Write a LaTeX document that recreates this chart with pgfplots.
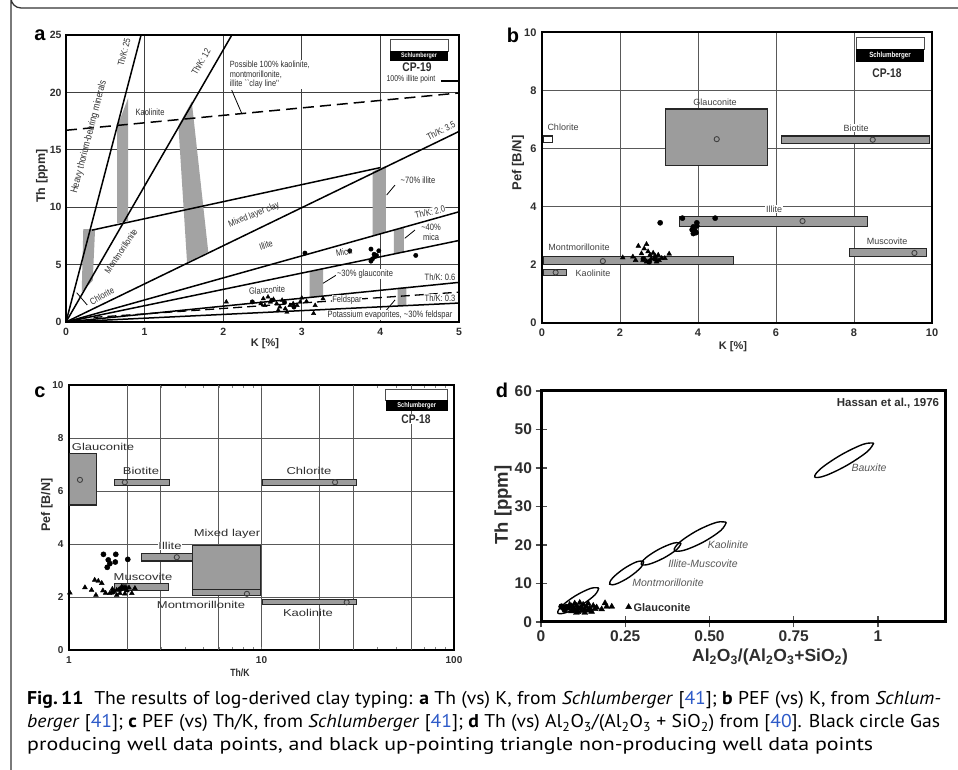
\documentclass[border=0pt]{standalone}
\usepackage{pgfplots}
\pgfplotsset{compat=1.18}
\usepackage{graphicx}
\usepackage{fontspec}
\setmainfont{Liberation Sans}
\newfontfamily\narrow[FakeStretch=0.82]{Liberation Sans}
\newfontfamily\wide[FakeStretch=1.3]{Liberation Sans}
\newfontfamily\capfont{PT Sans}
\newcommand\fs[1]{\fontsize{#1}{#1}\selectfont}
\definecolor{band}{HTML}{A3A3A3}
\definecolor{boxg}{HTML}{9C9C9C}
\definecolor{txt}{HTML}{2E2E2E}
\definecolor{linkblue}{RGB}{45,90,200}
\pgfplotsset{
  gas/.style={only marks, mark=*, mark size=2.4pt, black},
  dry/.style={only marks, mark=triangle*, mark size=2.8pt, black},
  cen/.style={only marks, mark=o, mark size=2.6pt, black!75, mark options={line width=0.9pt}},
  boxs/.style={fill=boxg, draw=black!85, line width=1.1pt},
  ln/.style={black, line width=1.5pt},
  ld/.style={black, line width=0.8pt},
  ell/.style={black, line width=1.4pt, smooth, tension=0.6},
}
\tikzset{
  lab/.style={font=\narrow\fs{9.2}, text=txt, inner sep=0.6pt},
  labw/.style={lab, fill=white},
  blab/.style={font=\fs{9}, text=black!75, inner sep=0.6pt},
  clab/.style={font=\wide\fs{10}, text=txt, inner sep=0.6pt},
  dlab/.style={font=\itshape\fs{10.5}, text=black!65, inner sep=0.6pt},
}
\begin{document}
\begin{tikzpicture}
\useasboundingbox (0,0) rectangle (958pt,770pt);
\fill[white] (0,0) rectangle (958pt,770pt);

% ---------------- panel a ----------------
\begin{axis}[at={(66pt,448pt)}, anchor=south west, scale only axis, width=393pt, height=287pt,
 xmin=0,xmax=5,ymin=0,ymax=25, xtick={0,1,...,5}, ytick={0,5,...,25},
 grid=major, grid style={black!75, line width=0.7pt}, major tick length=0pt,
 axis line style={line width=1.8pt},
 tick label style={font=\bfseries\fs{10.5}, text=txt}, /pgf/number format/assume math mode=true,
 xticklabel style={yshift=-3pt}, yticklabel style={xshift=-1pt}]
% grey bands
\addplot[fill=band, draw=none] coordinates {(0.2,2.6)(0.34,3.6)(0.37,8.1)(0.22,8.1)};
\addplot[fill=band, draw=none] coordinates {(0.65,8.6)(0.79,8.8)(0.79,19.5)(0.65,17.0)};
\addplot[fill=band, draw=none] coordinates {(1.43,17.1)(1.6,19.2)(1.81,6.1)(1.54,5.2)};
\addplot[fill=band, draw=none] coordinates {(3.9,7.5)(4.07,7.8)(4.07,13.6)(3.9,13.1)};
\addplot[fill=band, draw=none] coordinates {(4.17,5.9)(4.3,6.1)(4.3,8.25)(4.17,8.0)};
\addplot[fill=band, draw=none] coordinates {(3.1,2.17)(3.27,2.29)(3.27,4.64)(3.1,4.4)};
\addplot[fill=band, draw=none] coordinates {(4.22,1.4)(4.33,1.43)(4.33,3.05)(4.22,2.98)};
% lines
\addplot[ln] coordinates {(0,0)(0.955,25)};
\addplot[ln] coordinates {(0,0)(2.11,25)};
\addplot[ln] coordinates {(0,0)(5,16.6)};
\addplot[ln] coordinates {(0,0)(5,9.6)};
\addplot[ln] coordinates {(0,0)(5,7.1)};
\addplot[ln] coordinates {(0,0)(5,3.45)};
\addplot[ln] coordinates {(0,0)(5,1.65)};
\addplot[ln] coordinates {(0.33,8.0)(4.0,13.45)};
\addplot[black, line width=1.3pt, dash pattern=on 9pt off 5pt] coordinates {(0.35,0.4)(5,2.6)};
\addplot[black, line width=1.5pt, dash pattern=on 11pt off 6pt] coordinates {(0,16.7)(5,19.95)};
\addplot[black, line width=1.8pt] coordinates {(4.77,21.0)(5,21.0)};
% leaders
\addplot[ld] coordinates {(2.108,20.2)(2.235,18.18)};
\addplot[ld] coordinates {(4.186,11.93)(4.08,11.06)};
\addplot[ld] coordinates {(4.44,8.01)(4.31,7.29)};
\addplot[ld] coordinates {(3.44,4.09)(3.27,3.37)};
\addplot[ld] coordinates {(4.186,1.92)(4.06,0.9)};
\addplot[ld] coordinates {(0.136,2.55)(0.27,1.48)};
% data
\addplot[dry, mark size=2.5pt] coordinates {(2.04,1.75)(2.51,2.03)(2.57,2.18)(2.64,1.97)(2.60,1.74)(2.68,1.6)(2.72,1.31)(2.79,1.16)(2.85,1.45)(2.89,1.6)(2.94,1.45)(2.98,1.74)(3.0,2.09)(3.06,1.8)(3.17,1.45)(3.27,2.03)(2.53,1.45)(2.81,0.87)(2.7,1.02)(3.15,0.75)(2.48,1.6)(2.75,1.9)};
\addplot[gas, mark size=2.2pt] coordinates {(2.37,1.75)(3.04,6.0)(3.61,6.2)(3.88,6.35)(3.98,6.2)(3.92,5.9)(3.93,5.7)(3.9,5.5)(3.88,5.3)(3.95,5.8)(4.45,5.8)(2.62,1.9)(2.78,1.7)(2.9,1.3)};
\end{axis}

% ---------------- panel b ----------------
\begin{axis}[at={(542pt,447.3pt)}, anchor=south west, scale only axis, width=390pt, height=290.4pt,
 xmin=0,xmax=10,ymin=0,ymax=10, xtick={0,2,...,10}, ytick={0,2,...,10},
 grid=major, grid style={black!65, line width=0.8pt}, major tick length=0pt,
 axis line style={line width=2.2pt},
 tick label style={font=\bfseries\fs{11}, text=txt}, /pgf/number format/assume math mode=true,
 xticklabel style={yshift=-3pt}, yticklabel style={xshift=-2pt}]
\addplot[fill=white, draw=black!85, line width=1.1pt] coordinates {(0.03,6.21)(0.26,6.21)(0.26,6.43)(0.03,6.43)(0.03,6.21)(0.26,6.21)};
\addplot[boxs] coordinates {(3.17,5.4)(5.79,5.4)(5.79,7.36)(3.17,7.36)(3.17,5.4)(5.79,5.4)};
\addplot[boxs] coordinates {(6.15,6.18)(9.93,6.18)(9.93,6.43)(6.15,6.43)(6.15,6.18)(9.93,6.18)};
\addplot[boxs] coordinates {(3.52,3.31)(8.35,3.31)(8.35,3.67)(3.52,3.67)(3.52,3.31)(8.35,3.31)};
\addplot[boxs] coordinates {(0.03,1.99)(4.9,1.99)(4.9,2.27)(0.03,2.27)(0.03,1.99)(4.9,1.99)};
\addplot[boxs] coordinates {(0.03,1.62)(0.62,1.62)(0.62,1.84)(0.03,1.84)(0.03,1.62)(0.62,1.62)};
\addplot[boxs] coordinates {(7.88,2.27)(9.85,2.27)(9.85,2.56)(7.88,2.56)(7.88,2.27)(9.85,2.27)};
\addplot[cen] coordinates {(4.48,6.32)(8.48,6.3)(6.68,3.5)(1.56,2.12)(0.35,1.73)(9.55,2.4)};
\addplot[dry] coordinates {(2.07,2.24)(2.33,2.27)(2.47,2.64)(2.68,2.7)(2.55,2.38)(2.77,2.33)(2.85,2.4)(2.98,2.33)(3.15,2.22)(3.26,2.37)(2.59,2.16)(2.68,2.1)(2.94,2.1)(3.07,2.22)(2.4,2.15)(2.62,2.55)(2.72,2.45)(2.8,2.2)(2.9,2.3)(3.0,2.15)};
\addplot[gas, mark size=2.6pt] coordinates {(3.03,3.44)(3.6,3.6)(4.44,3.6)(3.97,3.44)(3.88,3.3)(3.92,3.17)(3.88,3.07)(3.97,3.33)(3.85,3.2)(3.95,3.1)(2.6,2.2)(2.75,2.1)(2.9,2.2)};
\end{axis}

% ---------------- panel c ----------------
\begin{axis}[at={(69pt,120pt)}, anchor=south west, scale only axis, width=385pt, height=265pt,
 xmode=log, xmin=1,xmax=100,ymin=0,ymax=10, xtick={1,10,100}, xticklabels={1,10,100},
 extra x ticks={2,3,6,20,30,60}, extra x tick labels={}, extra x tick style={grid=major},
 ytick={0,2,...,10},
 grid=major, grid style={black!65, line width=0.8pt}, major tick length=0pt,
 axis line style={line width=2pt},
 tick label style={font=\bfseries\fs{10}, text=txt}, /pgf/number format/assume math mode=true,
 xticklabel style={yshift=-3pt}, yticklabel style={xshift=-2pt}]
\addplot[boxs] coordinates {(1,5.47)(1.39,5.47)(1.39,7.4)(1,7.4)(1,5.47)(1.39,5.47)};
\addplot[boxs] coordinates {(1.73,6.2)(3.32,6.2)(3.32,6.45)(1.73,6.45)(1.73,6.2)(3.32,6.2)};
\addplot[boxs] coordinates {(10.1,6.2)(31.2,6.2)(31.2,6.45)(10.1,6.45)(10.1,6.2)(31.2,6.2)};
\addplot[boxs] coordinates {(2.39,3.36)(4.83,3.36)(4.83,3.65)(2.39,3.65)(2.39,3.36)(4.83,3.36)};
\addplot[boxs] coordinates {(4.37,2.04)(9.9,2.04)(9.9,3.94)(4.37,3.94)(4.37,2.04)(9.9,2.04)};
\addplot[boxs] coordinates {(4.37,2.04)(9.9,2.04)(9.9,2.29)(4.37,2.29)(4.37,2.04)(9.9,2.04)};
\addplot[boxs] coordinates {(1.73,2.26)(3.28,2.26)(3.28,2.52)(1.73,2.52)(1.73,2.26)(3.28,2.26)};
\addplot[boxs] coordinates {(10.1,1.7)(31.2,1.7)(31.2,1.89)(10.1,1.89)(10.1,1.7)(31.2,1.7)};
\addplot[cen] coordinates {(1.14,6.42)(1.95,6.33)(24.1,6.33)(3.63,3.5)(8.4,2.12)(1.95,2.39)(27.7,1.8)};
\addplot[dry] coordinates {(1.01,2.16)(1.21,2.36)(1.31,2.26)(1.36,2.64)(1.38,2.07)(1.48,2.52)(1.5,2.24)(1.63,2.14)(1.77,2.26)(1.88,2.39)(2.0,2.24)(2.12,2.14)(2.2,2.33)(1.77,2.07)(1.84,2.14)(1.42,2.6)(1.55,2.15)(1.68,2.3)(1.95,2.12)(2.05,2.35)};
\addplot[gas, mark size=2.6pt] coordinates {(1.51,3.61)(1.75,3.61)(2.02,3.42)(1.6,3.4)(1.63,3.26)(1.58,3.12)(1.74,3.32)(1.85,2.3)(1.95,2.35)(1.7,2.2)};
\end{axis}

% ---------------- panel d ----------------
\begin{axis}[at={(541pt,148pt)}, anchor=south west, scale only axis, width=404.4pt, height=231pt,
 xmin=0,xmax=1.2,ymin=0,ymax=60, xtick={0,0.25,0.5,0.75,1}, xticklabels={0,0.25,0.50,0.75,1},
 ytick={0,10,...,60}, tick pos=left, tick align=center, major tick length=11pt,
 tick style={black!70, line width=1.2pt},
 axis line style={line width=3pt},
 tick label style={font=\bfseries\fs{15.5}, text=txt}, /pgf/number format/assume math mode=true]
\addplot[ell] coordinates {(0.9872,46.47)(0.9554,46.14)(0.8909,43.43)(0.8315,39.93)(0.8122,37.69)(0.8440,38.02)(0.9085,40.73)(0.9679,44.23)(0.9872,46.47)};
\addplot[ell] coordinates {(0.5498,25.89)(0.5207,25.88)(0.4636,23.75)(0.4117,20.74)(0.3956,18.63)(0.4247,18.64)(0.4818,20.77)(0.5337,23.78)(0.5498,25.89)};
\addplot[ell] coordinates {(0.4156,20.48)(0.3934,20.49)(0.3497,18.89)(0.3101,16.61)(0.2977,15.00)(0.3199,14.99)(0.3637,16.59)(0.4033,18.87)(0.4156,20.48)};
\addplot[ell] coordinates {(0.3049,15.74)(0.2842,15.64)(0.2461,13.86)(0.2127,11.45)(0.2037,9.82)(0.2244,9.92)(0.2626,11.70)(0.2959,14.11)(0.3049,15.74)};
\addplot[ell] coordinates {(0.1715,8.82)(0.1477,8.74)(0.1022,6.81)(0.0617,4.16)(0.0498,2.35)(0.0737,2.43)(0.1192,4.36)(0.1597,7.01)(0.1715,8.82)};
\addplot[dry, mark size=3.4pt] coordinates {(0.08,3.5)(0.085,4.5)(0.09,2.8)(0.095,3.8)(0.1,4.8)(0.1,3.0)(0.105,4.2)(0.11,3.5)(0.11,2.6)(0.115,5.0)(0.12,3.8)(0.12,2.9)(0.125,4.5)(0.13,3.3)(0.13,2.4)(0.135,4.0)(0.14,3.0)(0.14,4.8)(0.145,3.6)(0.15,2.7)(0.155,4.2)(0.16,3.4)(0.165,3.8)(0.18,3.3)(0.19,4.9)(0.195,4.0)(0.21,4.0)(0.26,3.9)(0.09,4.1)(0.105,2.4)};
\addplot[gas, mark size=3pt] coordinates {(0.061,4.0)(0.07,3.2)(0.075,3.9)};
\end{axis}

\begin{scope}[x=1pt,y=-1pt,shift={(0,770pt)}]
% outer frame
\draw[black!80, line width=1.3pt] (958,8) -- (21,8) arc[start angle=90,end angle=180,radius=10] -- (11,770);
% ---- panel a texts
\node[font=\bfseries\fs{20}] at (40,35) {a};
\node[rotate=90, font=\bfseries\fs{12.5}, text=txt] at (42,176) {Th [ppm]};
\node[font=\bfseries\fs{11}, text=txt] at (265,344) {K [\%]};
\node[lab, rotate=75.4, font=\narrow\fs{10}] at (89,137) {Heavy thorium-bearing minerals};
\node[lab, rotate=75.4] at (124,52) {Th/K: 25};
\node[lab, rotate=60] at (201,62) {Th/K: 12};
\node[lab, anchor=north west, align=left, font=\narrow\fontsize{9}{9.7}\selectfont, fill=white] at (229,60) {Possible 100\% kaolinite,\\montmorillonite,\\illite ``clay line''};
\node[lab] at (150,112) {Kaolinite};
\draw[black!70, line width=0.6pt, fill=white] (390,39) rectangle (448,51);
\fill[black] (390,51) rectangle (448,61);
\node[white, font=\narrow\bfseries\fs{6.5}] at (419,56) {Schlumberger};
\node[font=\narrow\bfseries\fs{12.5}, text=txt] at (417,67) {CP-19};
\node[lab, font=\narrow\fs{8.5}] at (411,79) {100\% illite point};
\node[labw, rotate=27] at (441,131) {Th/K: 3.5};
\node[lab] at (418,180) {\textasciitilde 70\% illite};
\node[lab, rotate=22] at (254,215) {Mixed layer clay};
\node[lab, rotate=18] at (266,245) {Illite};
\node[labw, rotate=14] at (430,212) {Th/K: 2.0};
\node[lab, align=center, font=\narrow\fontsize{9.2}{10}\selectfont] at (431,232) {\textasciitilde 40\%\\mica};
\node[lab, rotate=10] at (344,252) {Mica};
\node[lab, rotate=56] at (121,251) {Montmorillonite};
\node[lab, rotate=29] at (102,296) {Chlorite};
\node[labw] at (365,274) {\textasciitilde 30\% glauconite};
\node[labw] at (440,277) {Th/K: 0.6};
\node[lab, rotate=5] at (267,290) {Glauconite};
\node[labw] at (347,300) {Feldspar};
\node[labw] at (440,298) {Th/K: 0.3};
\node[labw] at (390,315) {Potassium evaporites, \textasciitilde 30\% feldspar};
% ---- panel b texts
\node[font=\bfseries\fs{20}] at (513,35) {b};
\node[rotate=90, font=\bfseries\fs{13}, text=txt] at (518,163) {Pef [B/N]};
\node[font=\bfseries\fs{11}, text=txt] at (733,347) {K [\%]};
\draw[black!70, line width=0.6pt, fill=white] (856,37.3) rectangle (924.3,49.3);
\fill[black] (856,49.3) rectangle (924.3,61.7);
\node[white, font=\narrow\bfseries\fs{7.5}] at (890,55.5) {Schlumberger};
\node[font=\narrow\bfseries\fs{12.5}, text=txt] at (887,73) {CP-18};
\node[blab] at (563,127) {Chlorite};
\node[blab] at (715,102) {Glauconite};
\node[blab, fill=white] at (856,128) {Biotite};
\node[blab, fill=white] at (774,209) {Illite};
\node[blab] at (579,247) {Montmorillonite};
\node[blab] at (593,273) {Kaolinite};
\node[blab] at (887,241) {Muscovite};
% ---- panel c texts
\node[font=\bfseries\fs{20}] at (40,392) {c};
\node[rotate=90, font=\bfseries\fs{12.5}, text=txt] at (47,505) {Pef [B/N]};
\node[font=\narrow\bfseries\fs{10.5}, text=txt] at (240,673) {Th/K};
\draw[black!70, line width=0.6pt, fill=white] (385.7,389) rectangle (447.7,400);
\fill[black] (385.7,400) rectangle (447.7,411);
\node[white, font=\narrow\bfseries\fs{7}] at (416.7,405.5) {Schlumberger};
\node[font=\narrow\bfseries\fs{12.5}, text=txt, fill=white, inner sep=1pt] at (416,419) {CP-18};
\node[clab] at (103,447) {Glauconite};
\node[clab] at (141,471) {Biotite};
\node[clab] at (309,471) {Chlorite};
\node[clab] at (227,534) {Mixed layer};
\node[clab, fill=white] at (170,546) {Illite};
\node[clab] at (143,577) {Muscovite};
\node[clab] at (201,605) {Montmorillonite};
\node[clab] at (308,613) {Kaolinite};
% ---- panel d texts
\node[font=\bfseries\fs{20}] at (502,390) {d};
\node[rotate=90, font=\bfseries\fs{18.5}, text=txt] at (503,505) {Th [ppm]};
\node[anchor=base, font=\bfseries\fs{17.5}, text=txt] at (770,662) {Al\textsubscript{2}O\textsubscript{3}/(Al\textsubscript{2}O\textsubscript{3}+SiO\textsubscript{2})};
\node[font=\bfseries\fs{11.5}, text=txt] at (888,403) {Hassan et al., 1976};
\node[dlab] at (869,468) {Bauxite};
\node[dlab] at (728,545) {Kaolinite};
\node[dlab] at (703,564) {Illite-Muscovite};
\node[dlab] at (668,583) {Montmorillonite};
\node[font=\bfseries\fs{11}, text=txt] at (662,608) {Glauconite};
% ---- caption
\node[anchor=base west, inner sep=0] at (27,705) {\resizebox{914pt}{\height}{\capfont\fs{18.5}\textbf{Fig.\,11}\hspace{0.55em}The results of log-derived clay typing: \textbf{a} Th (vs) K, from \textit{Schlumberger} [\textcolor{linkblue}{41}]; \textbf{b} PEF (vs) K, from \textit{Schlum-}}};
\node[anchor=base west, inner sep=0] at (27,728) {\resizebox{913pt}{\height}{\capfont\fs{18.5}\textit{berger} [\textcolor{linkblue}{41}]; \textbf{c} PEF (vs) Th/K, from \textit{Schlumberger} [\textcolor{linkblue}{41}]; \textbf{d} Th (vs) Al\textsubscript{2}O\textsubscript{3}/(Al\textsubscript{2}O\textsubscript{3} + SiO\textsubscript{2}) from [\textcolor{linkblue}{40}]. Black circle Gas}};
\node[anchor=base west, inner sep=0] at (27,751) {\resizebox{846pt}{\height}{\capfont\fs{18.5}producing well data points, and black up-pointing triangle non-producing well data points}};
\end{scope}
\end{tikzpicture}
\end{document}
